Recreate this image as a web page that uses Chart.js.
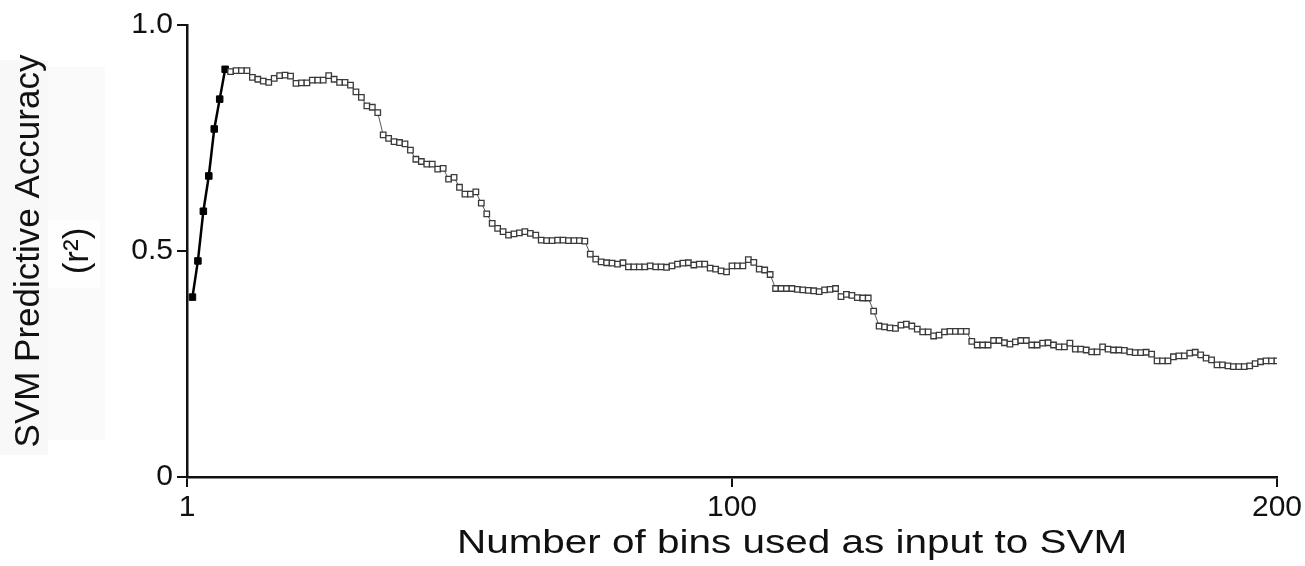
<!DOCTYPE html>
<html>
<head>
<meta charset="utf-8">
<title>SVM Predictive Accuracy</title>
<script src="https://cdn.jsdelivr.net/npm/chart.js@4/dist/chart.umd.min.js"></script>
<style>
	html, body { margin: 0; padding: 0; background: #fff; }
	#wrap { width: 1305px; height: 566px; }
</style>
</head>
<body>
<div id="wrap"><canvas id="myChart" width="1305" height="566"></canvas></div>
<script>
// bins 1-7 (filled squares)
var firstBins = [1, 2, 3, 4, 5, 6, 7];
var firstAcc = [0.398, 0.478, 0.588, 0.666, 0.770, 0.836, 0.902];

// bins 8-200 (open squares)
var restStart = 8;
var restAcc = [
	0.897, 0.899, 0.899, 0.899, 0.884, 0.880, 0.876, 0.873, 0.882, 0.888, // 8-17
	0.889, 0.887, 0.871, 0.872, 0.872, 0.878, 0.878, 0.878, 0.888, 0.880, // 18-27
	0.873, 0.873, 0.867, 0.852, 0.840, 0.821, 0.818, 0.806, 0.757, 0.749, // 28-37
	0.742, 0.740, 0.737, 0.723, 0.703, 0.698, 0.692, 0.692, 0.681, 0.683, // 38-47
	0.659, 0.663, 0.641, 0.626, 0.626, 0.631, 0.606, 0.582, 0.561, 0.550, // 48-57
	0.543, 0.535, 0.538, 0.540, 0.543, 0.539, 0.535, 0.524, 0.523, 0.523, // 58-67
	0.524, 0.524, 0.523, 0.523, 0.523, 0.522, 0.493, 0.482, 0.476, 0.474, // 68-77
	0.473, 0.471, 0.474, 0.465, 0.465, 0.465, 0.465, 0.467, 0.465, 0.465, // 78-87
	0.464, 0.467, 0.471, 0.473, 0.474, 0.469, 0.471, 0.471, 0.462, 0.460, // 88-97
	0.456, 0.454, 0.467, 0.467, 0.467, 0.481, 0.475, 0.460, 0.458, 0.448, // 98-107
	0.417, 0.417, 0.417, 0.417, 0.415, 0.414, 0.413, 0.412, 0.410, 0.414, // 108-117
	0.415, 0.417, 0.399, 0.404, 0.402, 0.397, 0.396, 0.396, 0.367, 0.334, // 118-127
	0.332, 0.330, 0.329, 0.336, 0.338, 0.334, 0.327, 0.321, 0.321, 0.312, // 128-137
	0.314, 0.321, 0.322, 0.322, 0.322, 0.322, 0.300, 0.292, 0.292, 0.292, // 138-147
	0.302, 0.302, 0.297, 0.294, 0.299, 0.302, 0.302, 0.292, 0.292, 0.296, // 148-157
	0.297, 0.292, 0.288, 0.288, 0.296, 0.283, 0.283, 0.281, 0.277, 0.277, // 158-167
	0.288, 0.283, 0.281, 0.281, 0.280, 0.277, 0.275, 0.275, 0.276, 0.272, // 168-177
	0.257, 0.257, 0.257, 0.266, 0.268, 0.268, 0.274, 0.276, 0.270, 0.263, // 178-187
	0.259, 0.248, 0.248, 0.246, 0.244, 0.244, 0.244, 0.246, 0.251, 0.255, // 188-197
	0.257, 0.257, 0.257                                                   // 198-200
];

// axis ticks and titles
var xTickValues = [0, 100, 200];
var xTickLabels = ["1", "100", "200"];
var yTickValues = [0, 0.5, 1];
var yTickLabels = ["0", "0.5", "1.0"];
var xTitle = "Number of bins used as input to SVM";
var yTitle = ["SVM Predictive Accuracy", "(r\u00B2)"];

var firstData = [];
for (var i = 0; i < firstBins.length; i++) {
	firstData.push({ x: firstBins[i], y: firstAcc[i] });
}
var restData = [];
for (var j = 0; j < restAcc.length; j++) {
	restData.push({ x: restStart + j, y: restAcc[j] });
}

var font = "'Liberation Sans', Arial, Helvetica, sans-serif";

// very faint grey boxes behind the y title (scan artefact in the original)
var bgBoxes = {
	id: "bgBoxes",
	beforeDraw: function (chart) {
		var c = chart.ctx;
		c.save();
		c.fillStyle = "#f8f8f8";
		c.fillRect(0, 60, 48, 395);
		c.fillStyle = "#fafafa";
		c.fillRect(48, 67, 57, 373);
		c.fillStyle = "#fefefe";
		c.fillRect(48, 220, 52, 68);
		c.restore();
	},
};

// x title, drawn a bit wider like the original print
var xTitlePlugin = {
	id: "xTitlePlugin",
	afterDraw: function (chart) {
		var c = chart.ctx;
		c.save();
		c.font = "34px " + font;
		c.fillStyle = "#111";
		c.textAlign = "center";
		c.textBaseline = "alphabetic";
		c.translate(792, 553);
		c.scale(1.19, 1);
		c.fillText(xTitle, 0, 0);
		c.restore();
	},
};

var ctx = document.getElementById("myChart").getContext("2d");
var myChart = new Chart(ctx, {
	type: "line",
	data: {
		datasets: [
			{
				data: restData,
				borderColor: "#555",
				borderWidth: 1,
				pointStyle: "rect",
				pointRadius: 3.9,
				pointBackgroundColor: "#fff",
				pointBorderColor: "#3a3a3a",
				pointBorderWidth: 1.3,
				tension: 0,
			},
			{
				data: firstData,
				borderColor: "#000",
				borderWidth: 2.5,
				pointStyle: "rect",
				pointRadius: 4.6,
				pointBackgroundColor: "#000",
				pointBorderColor: "#000",
				pointBorderWidth: 1,
				tension: 0,
			},
		],
	},
	plugins: [bgBoxes, xTitlePlugin],
	options: {
		responsive: false,
		animation: false,
		devicePixelRatio: 1,
		layout: {
			padding: { top: 25, right: 27, bottom: 4, left: 0 },
		},
		plugins: {
			legend: { display: false },
			tooltip: { enabled: false },
		},
		scales: {
			x: {
				type: "linear",
				min: 0,
				max: 200,
				afterBuildTicks: function (scale) {
					scale.ticks = xTickValues.map(function (v) { return { value: v }; });
				},
				afterFit: function (scale) {
					scale.height = 85;
				},
				ticks: {
					color: "#111",
					font: { family: font, size: 30 },
					padding: 3,
					maxRotation: 0,
					autoSkip: false,
					callback: function (value) {
						return xTickLabels[xTickValues.indexOf(value)];
					},
				},
				grid: {
					drawOnChartArea: false,
					drawTicks: true,
					tickLength: 10,
					color: "#111",
					lineWidth: 2,
				},
				border: { display: true, color: "#111", width: 2.5 },
				title: { display: false },
			},
			y: {
				type: "linear",
				min: 0,
				max: 1,
				afterBuildTicks: function (scale) {
					scale.ticks = yTickValues.map(function (v) { return { value: v }; });
				},
				afterFit: function (scale) {
					scale.width = 187;
				},
				ticks: {
					color: "#111",
					font: { family: font, size: 30 },
					padding: 4,
					autoSkip: false,
					callback: function (value) {
						return yTickLabels[yTickValues.indexOf(value)];
					},
				},
				grid: {
					drawOnChartArea: false,
					drawTicks: true,
					tickLength: 10,
					color: "#111",
					lineWidth: 2,
				},
				border: { display: true, color: "#111", width: 2.5 },
				title: {
					display: true,
					text: yTitle,
					color: "#111",
					font: { family: font, size: 35, lineHeight: 1.4 },
					padding: { top: 5, bottom: 0 },
				},
			},
		},
	},
});
</script>
</body>
</html>
